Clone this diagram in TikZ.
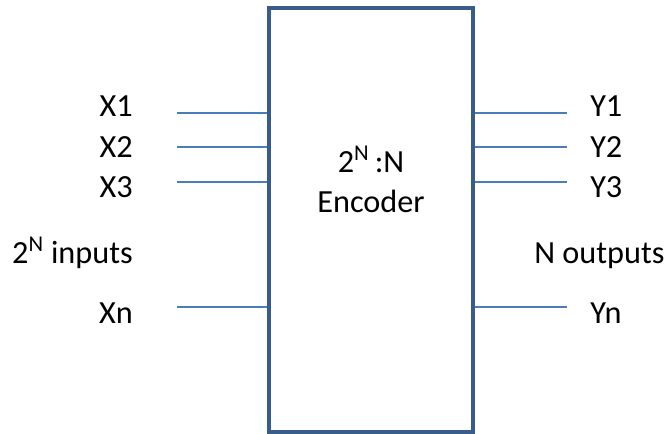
\documentclass[tikz,border=0pt]{standalone}
\usepackage{fontspec}
\setmainfont{Carlito}
\definecolor{boxblue}{HTML}{385D8A}
\definecolor{lineblue}{HTML}{4A7EBB}
\begin{document}
\begin{tikzpicture}[x=0.75pt,y=-0.75pt,
  lbl/.style={inner sep=0pt,font=\fontsize{24.2pt}{29pt}\selectfont,text=black},
  wire/.style={draw=lineblue,line width=1pt}]
\useasboundingbox (0,0) rectangle (670,434);
\node (box) [draw=boxblue,line width=2.3pt,minimum width=153pt,minimum height=318pt,inner sep=0pt] at (371,220) {};
\node (title) [lbl,anchor=base] at (371,173) {2\textsuperscript{N}\,:N};
\node (title2) [lbl,anchor=base] at (371,213) {Encoder};
% left labels
\node (x1) [lbl,anchor=base east] at (133,117) {X1};
\node (x2) [lbl,anchor=base east] at (133,158) {X2};
\node (x3) [lbl,anchor=base east] at (133,198) {X3};
\node (xin) [lbl,anchor=base east] at (133,264) {2\textsuperscript{N} inputs};
\node (xn) [lbl,anchor=base east] at (133,323) {Xn};
% right labels
\node (y1) [lbl,anchor=base west] at (590,117) {Y1};
\node (y2) [lbl,anchor=base west] at (590,158) {Y2};
\node (y3) [lbl,anchor=base west] at (590,198) {Y3};
\node (yout) [lbl,anchor=base west] at (534,264) {N outputs};
\node (yn) [lbl,anchor=base west] at (590,323) {Yn};
% wire ends
\coordinate (a1) at (177,113);
\coordinate (a2) at (177,147);
\coordinate (a3) at (177,182);
\coordinate (an) at (177,307);
\coordinate (b1) at (567,113);
\coordinate (b2) at (567,147);
\coordinate (b3) at (567,182);
\coordinate (bn) at (567,307);
\foreach \c in {a1,a2,a3,an}{\draw[wire] (\c) -- (\c -| box.west);}
\foreach \c in {b1,b2,b3,bn}{\draw[wire] (\c -| box.east) -- (\c);}
\end{tikzpicture}
\end{document}
